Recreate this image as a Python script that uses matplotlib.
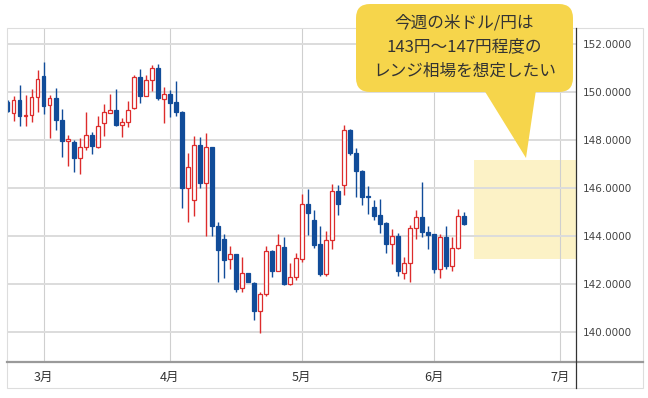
import matplotlib.pyplot as plt
import matplotlib.patches as mpatches
from matplotlib.lines import Line2D
from matplotlib.ticker import FormatStrFormatter
import pandas as pd

plt.rcParams['font.family'] = ['Noto Sans CJK JP', 'DejaVu Sans']

# 米ドル/円 日足（2025/02/21 〜 2025/06/09）
opens = [149.60, 149.11, 149.66, 148.98, 149.03, 149.78, 150.68, 149.46, 149.74, 148.83,
         147.97, 147.93, 147.24, 147.72, 148.21, 147.72, 148.70, 149.14, 149.25, 148.61,
         148.74, 149.32, 150.64, 149.85, 150.50, 150.99, 149.70, 149.90, 149.58, 149.17,
         145.99, 145.50, 147.78, 146.20, 147.69, 144.42, 143.88, 143.03, 143.24, 141.82,
         142.45, 142.05, 140.88, 141.58, 143.37, 142.55, 143.55, 141.99, 142.30, 143.03,
         145.32, 144.67, 143.67, 142.42, 143.83, 145.89, 146.13, 148.42, 147.45, 146.72,
         145.68, 145.22, 144.87, 144.52, 143.67, 144.00, 142.45, 142.86, 144.32, 144.80,
         144.15, 144.07, 142.64, 143.97, 142.76, 143.50, 144.82]
highs = [149.65, 149.82, 150.29, 149.87, 150.11, 150.92, 151.25, 149.86, 150.15, 149.27,
         148.21, 148.00, 148.08, 149.18, 148.35, 149.00, 149.50, 149.91, 150.13, 148.90,
         149.61, 150.72, 150.95, 150.71, 151.14, 151.17, 150.22, 150.10, 150.45, 149.20,
         147.47, 148.16, 148.12, 148.28, 147.72, 144.60, 144.10, 143.58, 143.26, 143.11,
         142.47, 142.07, 141.68, 143.60, 143.40, 144.10, 143.95, 142.88, 143.28, 145.74,
         145.95, 145.10, 144.40, 144.20, 146.16, 146.12, 148.63, 148.45, 147.65, 146.75,
         146.09, 145.50, 145.53, 144.58, 144.30, 144.12, 143.12, 144.45, 145.08, 146.26,
         144.42, 144.10, 144.10, 144.40, 143.96, 145.14, 145.00]
lows = [149.15, 148.80, 148.56, 148.60, 148.73, 149.15, 149.06, 148.07, 148.42, 147.30,
        146.92, 146.65, 146.57, 147.58, 147.42, 147.65, 148.18, 149.12, 148.59, 148.12,
        148.54, 149.30, 149.55, 149.83, 150.05, 149.67, 148.70, 148.97, 148.98, 145.16,
        144.60, 144.83, 145.99, 144.00, 144.00, 142.10, 142.26, 142.62, 141.68, 141.65,
        142.08, 140.50, 139.95, 141.50, 142.30, 142.53, 141.97, 141.97, 142.16, 142.93,
        144.04, 143.50, 142.35, 142.33, 143.45, 144.87, 145.71, 147.37, 145.64, 145.30,
        144.92, 144.67, 144.11, 143.30, 142.83, 142.33, 142.22, 142.08, 143.86, 143.95,
        143.45, 142.45, 142.25, 142.62, 142.55, 143.45, 144.45]
closes = [149.20, 149.66, 148.99, 149.03, 149.78, 150.54, 149.43, 149.74, 148.81, 147.97,
          148.02, 147.24, 147.72, 148.21, 147.75, 148.58, 149.18, 149.25, 148.62, 148.74,
          149.25, 150.64, 149.84, 150.50, 150.99, 149.75, 149.90, 149.55, 149.15, 145.99,
          146.87, 147.78, 146.20, 147.69, 144.40, 143.42, 143.00, 143.24, 141.80, 142.45,
          142.10, 140.88, 141.58, 143.37, 142.55, 143.62, 141.99, 142.30, 143.07, 145.32,
          144.95, 143.62, 142.42, 143.83, 145.89, 145.33, 148.42, 147.45, 146.72, 145.61,
          145.62, 144.84, 144.48, 143.65, 144.00, 142.53, 142.86, 144.32, 144.80, 144.15,
          144.02, 142.62, 143.97, 142.76, 143.50, 144.82, 144.48]

start_day = '2025-02-21'
axis_end_day = '2025-07-01'
month_labels = ['3月', '4月', '5月', '6月', '7月']
y_ticks = [140, 142, 144, 146, 148, 150, 152]

# 想定レンジ（黄色の帯）
range_low = 143.05
range_high = 147.15

callout_lines = ['今週の米ドル/円は', '143円～147円程度の', 'レンジ相場を想定したい']

UP = '#DD2C2C'
DOWN = '#114C99'

W, H = 648, 398


def px(x, y):
    # ピクセル座標 -> インチ（左下原点）
    return (x / 100, (H - y) / 100)


fig = plt.figure(figsize=(W / 100, H / 100), dpi=100)
ax = fig.add_axes([6.7 / W, 1 - 362 / H, (576 - 6.7) / W, (362 - 28.3) / H])

days = pd.bdate_range(start_day, axis_end_day)
month_pos = [i for i in range(1, len(days)) if days[i].month != days[i - 1].month]

for i in range(len(closes)):
    o, h, l, c = opens[i], highs[i], lows[i], closes[i]
    up = c >= o
    col = UP if up else DOWN
    ax.vlines(i, l, h, color=col, lw=1, zorder=2)
    ax.bar(i, max(abs(c - o), 0.04), bottom=min(o, c), width=0.62,
           facecolor='white' if up else DOWN, edgecolor=col, lw=0.9, zorder=3)

xlim = (-0.15, len(days) + 1.65)
ax.add_patch(mpatches.Rectangle((len(closes) + 0.6, range_low), xlim[1] - len(closes) - 0.6,
                                range_high - range_low, facecolor='#FCF2C6',
                                edgecolor='none', zorder=0.2))

ax.set_xlim(*xlim)
ax.set_ylim(138.75, 152.65)
ax.set_yticks(y_ticks)
ax.yaxis.tick_right()
ax.yaxis.set_major_formatter(FormatStrFormatter('%.4f'))
ax.set_xticks(month_pos)
ax.set_xticklabels(month_labels)
ax.set_axisbelow(True)
ax.grid(axis='y', color='#dcdcdc', lw=1.4)
ax.grid(axis='x', color='#cfcfcf', lw=0.8)
ax.tick_params(axis='y', length=0, pad=5, labelsize=7.5, labelcolor='#444444')
for lab in ax.get_yticklabels():
    lab.set_family('DejaVu Sans')
ax.tick_params(axis='x', length=0, pad=6.5, labelsize=9, labelcolor='#333333')
for s in ax.spines.values():
    s.set_visible(False)

# 外枠と区切り線
t = fig.dpi_scale_trans
fig.add_artist(mpatches.Rectangle(px(6.7, 388), (643 - 6.7) / 100, (388 - 28.3) / 100,
                                  fill=False, edgecolor='#dddddd', lw=0.8, transform=t))
fig.add_artist(Line2D([6.7 / 100, 643 / 100], [(H - 362) / 100] * 2, color='#9a9a9a',
                      lw=1.6, transform=t))
fig.add_artist(Line2D([576 / 100] * 2, [(H - 28.3) / 100, (H - 388) / 100], color='#333333',
                      lw=0.9, transform=t))

# 吹き出し
box_l, box_t, box_r, box_b = 356, 4, 573, 92
fig.add_artist(mpatches.FancyBboxPatch(px(box_l, box_b), (box_r - box_l) / 100,
                                       (box_b - box_t) / 100,
                                       boxstyle='round,pad=0,rounding_size=0.14',
                                       facecolor='#F6D54B', edgecolor='none',
                                       transform=t, zorder=5))
fig.add_artist(mpatches.Polygon([px(484, 90), px(536, 90), px(526, 158)], closed=True,
                                facecolor='#F6D54B', edgecolor='none', transform=t, zorder=5))
for k, line in enumerate(callout_lines):
    xx, yy = px((box_l + box_r) / 2, 23 + 24 * k)
    fig.text(xx, yy, line, transform=t, ha='center', va='center', fontsize=12,
             color='#333333', zorder=6)

fig.savefig('out.png', dpi=100)
